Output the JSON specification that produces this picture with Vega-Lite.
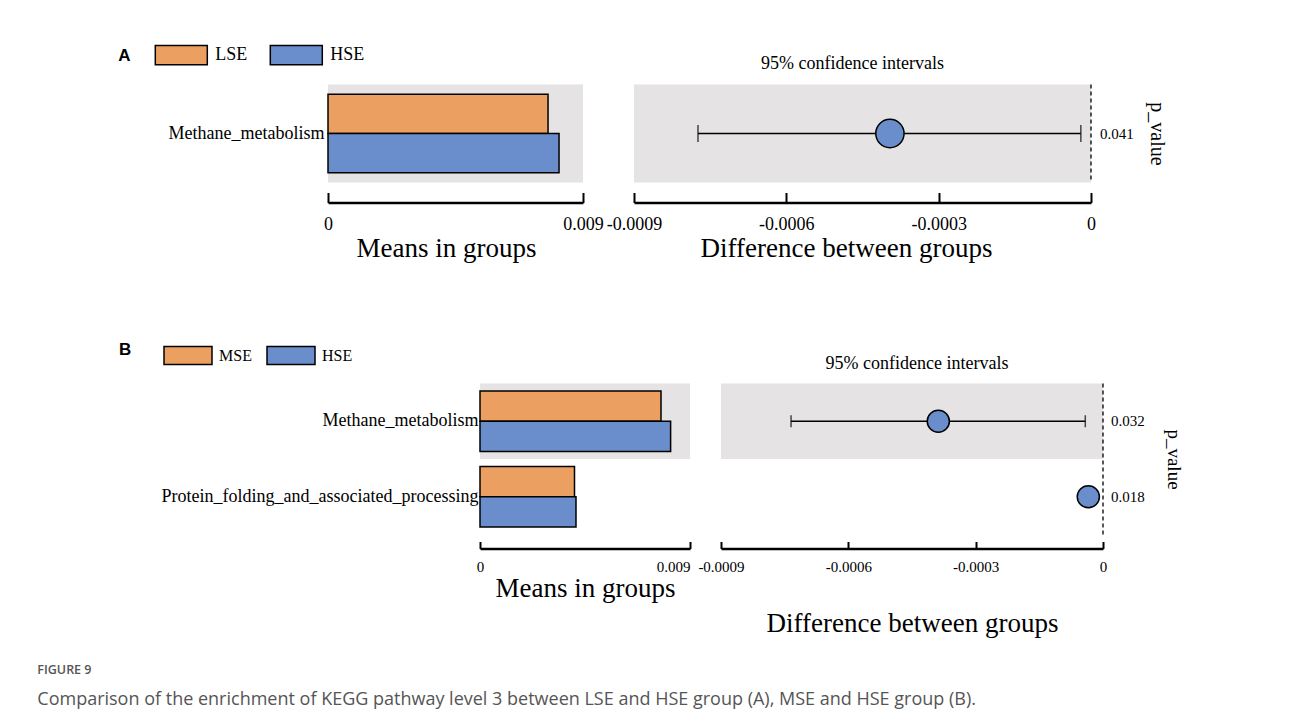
{
  "$schema": "https://vega.github.io/schema/vega-lite/v6.json",
  "background": "white",
  "padding": {"left": 37, "top": 27.5, "right": 5, "bottom": 5},
  "datasets": {
    "meansA": [
      {"pathway": "Methane_metabolism", "group": "LSE", "mean": 0.007766},
      {"pathway": "Methane_metabolism", "group": "HSE", "mean": 0.008154}
    ],
    "statsA": [
      {"pathway": "Methane_metabolism", "diff": -0.000396, "lower": -0.000774, "upper": -0.00002, "p": "0.041", "shade": true}
    ],
    "meansB": [
      {"pathway": "Methane_metabolism", "group": "MSE", "mean": 0.007757},
      {"pathway": "Methane_metabolism", "group": "HSE", "mean": 0.008169},
      {"pathway": "Protein_folding_and_associated_processing", "group": "MSE", "mean": 0.00405},
      {"pathway": "Protein_folding_and_associated_processing", "group": "HSE", "mean": 0.004114}
    ],
    "statsB": [
      {"pathway": "Methane_metabolism", "diff": -0.000388, "lower": -0.000735, "upper": -0.0000417, "p": "0.032", "shade": true},
      {"pathway": "Protein_folding_and_associated_processing", "diff": -0.0000346, "lower": -0.000046, "upper": -0.000023, "p": "0.018", "shade": false}
    ]
  },
  "vconcat": [
    {
      "hconcat": [
        {
          "width": 255,
          "height": 98,
          "layer": [
            {
              "data": {"name": "statsA"},
              "transform": [{"filter": "datum.shade"}],
              "mark": {"type": "rect", "color": "#E5E3E3"},
              "encoding": {
                "y": {"field": "pathway", "type": "nominal", "scale": {"domain": ["Methane_metabolism"], "paddingInner": 0, "paddingOuter": 0},
                      "axis": {"title": null, "ticks": false, "domain": false, "labelFontSize": 18, "labelPadding": 4, "labelLimit": 0}},
                "x": {"datum": 0, "type": "quantitative", "scale": {"domain": [0, 0.009], "nice": false, "zero": false},
                      "axis": {"values": [0, 0.009], "format": "~g", "title": "Means in groups", "titleFontSize": 27, "titlePadding": 2, "titleX": 118,
                               "labelFontSize": 18, "labelPadding": 23, "tickSize": -10, "tickWidth": 2, "domainWidth": 2.5, "offset": 20,
                               "labelFlush": false, "labelOverlap": false}},
                "x2": {"datum": 0.009}
              }
            },
            {
              "data": {"name": "meansA"},
              "mark": {"type": "bar", "stroke": "black", "strokeWidth": 1.5},
              "encoding": {
                "y": {"field": "pathway", "type": "nominal"},
                "yOffset": {"field": "group", "type": "nominal", "sort": ["LSE", "HSE"], "scale": {"domain": ["LSE", "HSE"], "paddingInner": 0, "paddingOuter": 0.25}},
                "x": {"field": "mean", "type": "quantitative"},
                "fill": {"field": "group", "type": "nominal", "scale": {"domain": ["LSE", "HSE"], "range": ["#EBA061", "#6A8DCB"]},
                         "legend": {"orient": "none", "legendX": -209.7, "legendY": -56.5, "direction": "horizontal",
                                    "title": "A", "titleOrient": "left", "titleAnchor": "middle", "titleBaseline": "top",
                                    "titleFont": "Liberation Sans", "titleFontSize": 17, "titleFontWeight": "bold",
                                    "titleColor": "black", "titlePadding": 23,
                                    "labelFont": "Liberation Serif", "labelFontSize": 18, "labelColor": "black", "labelOffset": 7, "columnPadding": 19,
                                    "symbolType": "M-1,-0.37H1V0.37H-1Z", "symbolSize": 2704, "symbolStrokeColor": "black", "symbolStrokeWidth": 1.5, "symbolOpacity": 1}}
              }
            }
          ]
        },
        {
          "width": 457,
          "height": 98,
          "title": {"text": "95% confidence intervals", "font": "Liberation Serif", "fontSize": 18, "fontWeight": "normal", "color": "black", "offset": 11, "dx": -10, "anchor": "middle"},
          "layer": [
            {
              "data": {"name": "statsA"},
              "transform": [{"filter": "datum.shade"}],
              "mark": {"type": "rect", "color": "#E5E3E3"},
              "encoding": {
                "y": {"field": "pathway", "type": "nominal", "scale": {"domain": ["Methane_metabolism"], "paddingInner": 0, "paddingOuter": 0},
                      "axis": {"orient": "right", "title": "p_value", "labels": false, "ticks": false, "domain": false, "titleFontSize": 20, "titlePadding": 55}},
                "x": {"datum": -0.0009, "type": "quantitative", "scale": {"domain": [-0.0009, 0], "nice": false, "zero": false},
                      "axis": {"values": [-0.0009, -0.0006, -0.0003, 0], "labelExpr": "datum.value == 0 ? '0' : '-' + format(-datum.value, '~g')",
                               "title": "Difference between groups", "titleFontSize": 27, "titlePadding": 2, "titleX": 212,
                               "labelFontSize": 18, "labelPadding": 23, "tickSize": -10, "tickWidth": 2, "domainWidth": 2.5, "offset": 20,
                               "labelFlush": false, "labelOverlap": false}},
                "x2": {"datum": 0}
              }
            },
            {
              "data": {"values": [{}]},
              "mark": {"type": "rule", "strokeDash": [4, 3], "strokeWidth": 1.3, "color": "black"},
              "encoding": {"x": {"datum": 0, "type": "quantitative"}}
            },
            {
              "data": {"name": "statsA"},
              "mark": {"type": "rule", "strokeWidth": 1.5, "color": "black"},
              "encoding": {"y": {"field": "pathway", "type": "nominal"}, "x": {"field": "lower", "type": "quantitative"}, "x2": {"field": "upper"}}
            },
            {
              "data": {"name": "statsA"},
              "mark": {"type": "tick", "color": "black", "thickness": 1.5, "size": 17},
              "encoding": {"y": {"field": "pathway", "type": "nominal"}, "x": {"field": "lower", "type": "quantitative"}}
            },
            {
              "data": {"name": "statsA"},
              "mark": {"type": "tick", "color": "black", "thickness": 1.5, "size": 17},
              "encoding": {"y": {"field": "pathway", "type": "nominal"}, "x": {"field": "upper", "type": "quantitative"}}
            },
            {
              "data": {"name": "statsA"},
              "mark": {"type": "circle", "fill": "#6A8DCB", "stroke": "black", "strokeWidth": 1.5, "size": 800, "opacity": 1},
              "encoding": {"y": {"field": "pathway", "type": "nominal"}, "x": {"field": "diff", "type": "quantitative"}}
            },
            {
              "data": {"name": "statsA"},
              "mark": {"type": "text", "align": "left", "baseline": "middle", "dx": 9, "font": "Liberation Serif", "fontSize": 15, "color": "black"},
              "encoding": {"y": {"field": "pathway", "type": "nominal"}, "x": {"datum": 0, "type": "quantitative"}, "text": {"field": "p"}}
            }
          ]
        }
      ],
      "spacing": 51,
      "bounds": "flush",
      "resolve": {"scale": {"fill": "independent", "yOffset": "independent"}, "legend": {"fill": "independent"}}
    },
    {
      "hconcat": [
        {
          "width": 120.3,
          "height": 151,
          "data": {"values": []},
          "mark": {"type": "point", "opacity": 0},
          "encoding": {}
        },
        {
          "width": 210,
          "height": 151,
          "layer": [
            {
              "data": {"name": "statsB"},
              "transform": [{"filter": "datum.shade"}],
              "mark": {"type": "rect", "color": "#E5E3E3"},
              "encoding": {
                "y": {"field": "pathway", "type": "nominal", "scale": {"domain": ["Methane_metabolism", "Protein_folding_and_associated_processing"], "paddingInner": 0, "paddingOuter": 0},
                      "axis": {"title": null, "ticks": false, "domain": false, "labelFontSize": 18, "labelPadding": 2, "labelLimit": 0}},
                "x": {"datum": 0, "type": "quantitative", "scale": {"domain": [0, 0.009], "nice": false, "zero": false},
                      "axis": {"values": [0, 0.009], "format": "~g", "title": "Means in groups", "titleFontSize": 27, "titlePadding": 1,
                               "labelFontSize": 15, "labelPadding": 18, "tickSize": -7, "tickWidth": 2, "domainWidth": 2.5, "offset": 14,
                               "labelAlign": {"condition": {"test": "datum.value > 0", "value": "right"}, "value": "center"},
                               "labelFlush": false, "labelOverlap": false}},
                "x2": {"datum": 0.009}
              }
            },
            {
              "data": {"name": "meansB"},
              "mark": {"type": "bar", "stroke": "black", "strokeWidth": 1.5},
              "encoding": {
                "y": {"field": "pathway", "type": "nominal"},
                "yOffset": {"field": "group", "type": "nominal", "sort": ["MSE", "HSE"], "scale": {"domain": ["MSE", "HSE"], "paddingInner": 0, "paddingOuter": 0.25}},
                "x": {"field": "mean", "type": "quantitative"},
                "fill": {"field": "group", "type": "nominal", "scale": {"domain": ["MSE", "HSE"], "range": ["#EBA061", "#6A8DCB"]},
                         "legend": {"orient": "none", "legendX": -361, "legendY": -53, "direction": "horizontal",
                                    "title": "B", "titleOrient": "left", "titleAnchor": "middle", "titleBaseline": "middle",
                                    "titleFont": "Liberation Sans", "titleFontSize": 17, "titleFontWeight": "bold",
                                    "titleColor": "black", "titlePadding": 31,
                                    "labelFont": "Liberation Serif", "labelFontSize": 16, "labelColor": "black", "labelOffset": 6, "columnPadding": 12,
                                    "symbolType": "M-1,-0.375H1V0.375H-1Z", "symbolSize": 2304, "symbolStrokeColor": "black", "symbolStrokeWidth": 1.5, "symbolOpacity": 1}}
              }
            }
          ]
        },
        {
          "width": 382,
          "height": 151,
          "title": {"text": "95% confidence intervals", "font": "Liberation Serif", "fontSize": 18, "fontWeight": "normal", "color": "black", "offset": 10, "dx": 5, "anchor": "middle"},
          "layer": [
            {
              "data": {"name": "statsB"},
              "transform": [{"filter": "datum.shade"}],
              "mark": {"type": "rect", "color": "#E5E3E3"},
              "encoding": {
                "y": {"field": "pathway", "type": "nominal", "scale": {"domain": ["Methane_metabolism", "Protein_folding_and_associated_processing"], "paddingInner": 0, "paddingOuter": 0},
                      "axis": {"orient": "right", "title": "p_value", "labels": false, "ticks": false, "domain": false, "titleFontSize": 19, "titlePadding": 60}},
                "x": {"datum": -0.0009, "type": "quantitative", "scale": {"domain": [-0.0009, 0], "nice": false, "zero": false},
                      "axis": {"values": [-0.0009, -0.0006, -0.0003, 0], "labelExpr": "datum.value == 0 ? '0' : '-' + format(-datum.value, '~g')",
                               "title": "Difference between groups", "titleFontSize": 27, "titlePadding": 36,
                               "labelFontSize": 15, "labelPadding": 18, "tickSize": -7, "tickWidth": 2, "domainWidth": 2.5, "offset": 14,
                               "labelFlush": false, "labelOverlap": false}},
                "x2": {"datum": 0}
              }
            },
            {
              "data": {"values": [{}]},
              "mark": {"type": "rule", "strokeDash": [4, 3], "strokeWidth": 1.3, "color": "black"},
              "encoding": {"x": {"datum": 0, "type": "quantitative"}}
            },
            {
              "data": {"name": "statsB"},
              "mark": {"type": "rule", "strokeWidth": 1.5, "color": "black"},
              "encoding": {"y": {"field": "pathway", "type": "nominal"}, "x": {"field": "lower", "type": "quantitative"}, "x2": {"field": "upper"}}
            },
            {
              "data": {"name": "statsB"},
              "mark": {"type": "tick", "color": "black", "thickness": 1.5, "size": 12},
              "encoding": {"y": {"field": "pathway", "type": "nominal"}, "x": {"field": "lower", "type": "quantitative"}}
            },
            {
              "data": {"name": "statsB"},
              "mark": {"type": "tick", "color": "black", "thickness": 1.5, "size": 12},
              "encoding": {"y": {"field": "pathway", "type": "nominal"}, "x": {"field": "upper", "type": "quantitative"}}
            },
            {
              "data": {"name": "statsB"},
              "mark": {"type": "circle", "fill": "#6A8DCB", "stroke": "black", "strokeWidth": 1.5, "size": 490, "opacity": 1},
              "encoding": {"y": {"field": "pathway", "type": "nominal"}, "x": {"field": "diff", "type": "quantitative"}}
            },
            {
              "data": {"name": "statsB"},
              "mark": {"type": "text", "align": "left", "baseline": "middle", "dx": 8, "font": "Liberation Serif", "fontSize": 15, "color": "black"},
              "encoding": {"y": {"field": "pathway", "type": "nominal"}, "x": {"datum": 0, "type": "quantitative"}, "text": {"field": "p"}}
            }
          ]
        }
      ],
      "spacing": 31,
      "bounds": "flush",
      "resolve": {"scale": {"fill": "independent", "yOffset": "independent"}, "legend": {"fill": "independent"}}
    }
  ],
  "spacing": 69,
  "resolve": {"scale": {"fill": "independent", "yOffset": "independent"}, "legend": {"fill": "independent"}},
  "title": {
    "text": "FIGURE 9",
    "subtitle": "Comparison of the enrichment of KEGG pathway level 3 between LSE and HSE group (A), MSE and HSE group (B).",
    "orient": "bottom",
    "anchor": "start",
    "frame": "bounds",
    "dx": -81,
    "offset": 27,
    "font": "Open Sans",
    "fontSize": 12.5,
    "fontWeight": 600,
    "color": "#555555",
    "subtitleFont": "Open Sans",
    "subtitleFontSize": 18,
    "subtitleColor": "#555555",
    "subtitlePadding": 15
  },
  "config": {
    "view": {"stroke": null},
    "font": "Liberation Serif",
    "axis": {"labelFont": "Liberation Serif", "titleFont": "Liberation Serif", "labelColor": "black", "titleColor": "black",
             "titleFontWeight": "normal", "domainColor": "black", "tickColor": "black", "grid": false}
  }
}
